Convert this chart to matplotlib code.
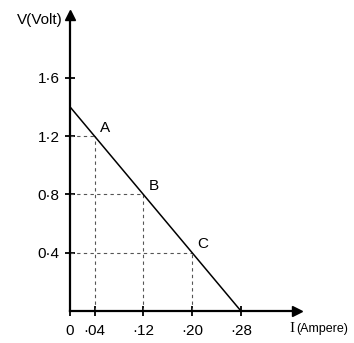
import matplotlib
matplotlib.use("Agg")  # Non-interactive backend
import matplotlib.pyplot as plt

# Terminal voltage against current drawn from the cell
current = [0.0, 0.04, 0.12, 0.20, 0.28]
voltage = [1.4, 1.2, 0.8, 0.4, 0.0]

# Marked readings on the line
point_names = ["A", "B", "C"]
point_current = [0.04, 0.12, 0.20]
point_voltage = [1.2, 0.8, 0.4]

x_ticks = [0.0, 0.04, 0.12, 0.20, 0.28]
x_tick_labels = ["0", "\u00b704", "\u00b712", "\u00b720", "\u00b728"]
y_ticks = [0.4, 0.8, 1.2, 1.6]
y_tick_labels = ["0\u00b74", "0\u00b78", "1\u00b72", "1\u00b76"]

plt.rcParams["font.family"] = ["Liberation Sans", "DejaVu Sans"]

fig = plt.figure(figsize=(3.54, 3.43), dpi=100)
ax = fig.add_axes([0.198, 0.093, 0.641, 0.863])
ax.set_xlim(0, 0.3717)
ax.set_ylim(0, 2.03)

for side in ("top", "right"):
    ax.spines[side].set_visible(False)
for side in ("left", "bottom"):
    ax.spines[side].set_linewidth(1.6)

# arrow heads at the ends of both axes
ax.plot(1, 0, ">k", ms=7, transform=ax.transAxes, clip_on=False)
ax.plot(0, 1, "^k", ms=7, transform=ax.transAxes, clip_on=False)

ax.set_xticks(x_ticks, x_tick_labels)
ax.set_yticks(y_ticks, y_tick_labels)
ax.tick_params(direction="inout", length=7, width=1.3, labelsize=11, pad=4)
ax.tick_params(axis="x", pad=6)

# dashed guides from each marked point to both axes
for i, v in zip(point_current, point_voltage):
    ax.plot([0, i], [v, v], color="#555555", lw=0.8, ls=(0, (3, 3)))
    ax.plot([i, i], [0, v], color="#555555", lw=0.8, ls=(0, (3, 3)))

ax.plot(current, voltage, color="black", lw=1.1)

for name, i, v in zip(point_names, point_current, point_voltage):
    ax.annotate(name, (i, v), xytext=(4, 6), textcoords="offset points",
                ha="left", va="center", fontsize=11)

fig.text(63 / 354, 1 - 20 / 343, "V(Volt)", ha="right", va="center", fontsize=11)
fig.text(289 / 354, 1 - 329 / 343, "I", ha="left", va="center", fontsize=11,
         family="Liberation Serif")
fig.text(296 / 354, 1 - 329 / 343, "(Ampere)", ha="left", va="center", fontsize=9)

fig.savefig("out.png", dpi=100)
